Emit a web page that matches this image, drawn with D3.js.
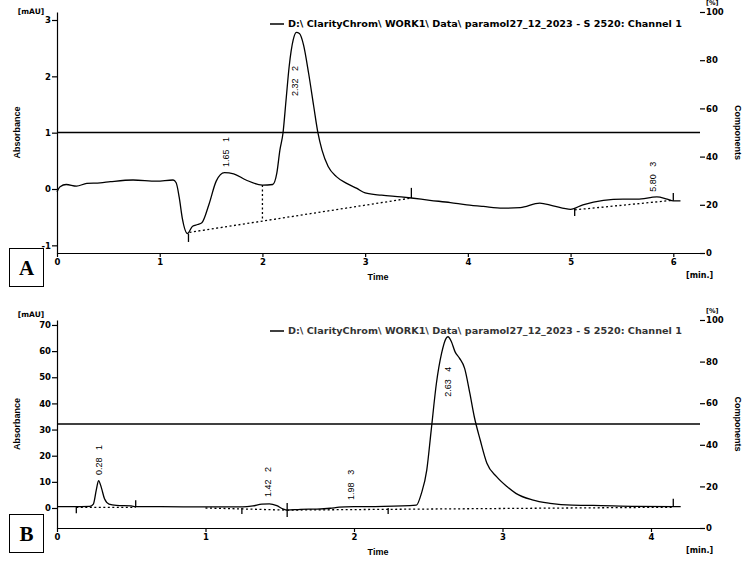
<!DOCTYPE html>
<html><head><meta charset="utf-8">
<script src="https://cdn.jsdelivr.net/npm/d3@7"></script>
<style>body{margin:0;background:#fff}svg{display:block}</style>
</head><body>
<svg id="chart" width="754" height="561"></svg>
<script>
const legendText = "D:\\ ClarityChrom\\ WORK1\\ Data\\ paramol27_12_2023 - S 2520: Channel 1";

// ---------- Panel A data ----------
const timeA = [0,0.03,0.09,0.19,0.29,0.42,0.52,0.74,0.97,1.13,1.16,1.19,1.22,1.27,1.32,1.37,1.41,1.48,1.55,1.63,1.72,1.84,2.0,2.1,2.14,2.17,2.2,2.23,2.26,2.3,2.33,2.36,2.4,2.45,2.5,2.54,2.58,2.64,2.72,2.82,2.92,3.0,3.16,3.35,3.45,3.63,3.83,3.99,4.15,4.34,4.51,4.7,4.83,5.0,5.12,5.32,5.51,5.65,5.84,5.94,6.0,6.07];
const absA  = [-0.05,0.04,0.08,0.05,0.1,0.11,0.13,0.16,0.14,0.16,0.11,-0.15,-0.52,-0.79,-0.66,-0.63,-0.6,-0.27,0.14,0.29,0.27,0.16,0.07,0.08,0.28,0.69,0.99,1.58,2.17,2.65,2.78,2.76,2.56,2.05,1.46,1.0,0.69,0.4,0.22,0.1,0.01,-0.07,-0.11,-0.14,-0.16,-0.2,-0.24,-0.28,-0.31,-0.34,-0.33,-0.25,-0.3,-0.36,-0.28,-0.2,-0.18,-0.18,-0.14,-0.18,-0.21,-0.21];
const leftTicksA = [-1,0,1,2,3];
const timeTicksA = [0,1,2,3,4,5,6];
const peakTimesA = [1.65,2.32,5.80];
const peakNumsA = ["1","2","3"];
const peakLabelBaseA = [0.39,1.65,-0.05];
const markerTimesA = [1.28,3.45,5.04,6.0];
const markerFromA = [-0.79,0.02,-0.34,-0.07];
const markerToA = [-0.94,-0.16,-0.48,-0.21];
const baselineTimesA = [[1.29,3.45],[2.0,2.0],[5.04,6.0]];
const baselineValsA = [[-0.77,-0.16],[0.07,-0.55],[-0.37,-0.2]];

// ---------- Panel B data ----------
const timeB = [0,0.1,0.22,0.245,0.265,0.28,0.3,0.32,0.35,0.4,0.5,0.53,0.7,1.0,1.25,1.32,1.38,1.43,1.48,1.52,1.55,1.64,1.75,1.84,1.9,2.0,2.2,2.42,2.454,2.49,2.52,2.555,2.59,2.62,2.633,2.656,2.68,2.71,2.745,2.78,2.81,2.85,2.895,2.96,3.03,3.09,3.2,3.32,3.47,3.61,3.9,4.2];
const absB  = [0.5,0.5,0.6,1.5,7,10.5,7.5,3.5,1.5,1.0,0.8,0.5,0.5,0.4,0.4,0.8,1.5,1.6,0.9,-0.3,-0.8,-0.5,-0.4,-0.1,0.3,0.5,0.6,1.1,5.6,14.5,29.8,47.7,59.2,64.9,65.5,63.6,59.8,57.3,53.4,43.9,34.9,26,17.1,12,8.2,5.6,3.1,1.8,1.1,1.0,0.6,0.5];
const leftTicksB = [0,10,20,30,40,50,60,70];
const timeTicksB = [0,1,2,3,4];
const peakTimesB = [0.28,1.42,1.98,2.63];
const peakNumsB = ["1","2","3","4"];
const peakLabelBaseB = [12.6,4.2,3.1,42.5];
const markerTimesB = [0.13,0.53,1.245,1.55,2.23,4.15];
const markerFromB = [0.5,0.5,0,1.9,0,0.5];
const markerToB = [-2.0,3.0,-2.3,-3.4,-2.3,3.5];
const baselineTimesB = [[0.13,0.53],[1.0,1.55],[1.55,4.15]];
const baselineValsB = [[0.2,0.2],[0,-0.8],[-0.8,0.3]];

const pctTicks = [0,20,40,60,80,100];

const svg = d3.select("#chart");
const FONT = "'DejaVu Sans', Verdana, sans-serif";
const FONT2 = "'Liberation Sans', Arial, sans-serif";

function drawPanel(cfg) {
  const g = svg.append("g");
  const x = d3.scaleLinear().domain(cfg.xDomain).range([57, 700]);
  const y = d3.scaleLinear().domain(cfg.yDomain).range([cfg.bottom, cfg.top]);
  const p = d3.scaleLinear().domain([0, 100]).range([cfg.bottom, cfg.top]);

  const la = g.append("g").attr("transform", "translate(57,0)")
    .call(d3.axisLeft(y).tickValues(cfg.leftTicks).tickSize(5).tickSizeOuter(0).tickPadding(1).tickFormat(d => String(d)));
  const ba = g.append("g").attr("transform", `translate(0,${cfg.bottom})`)
    .call(d3.axisBottom(x).tickValues(cfg.timeTicks).tickSize(4).tickSizeOuter(0).tickPadding(2).tickFormat(d => String(d)));
  const ra = g.append("g").attr("transform", "translate(700,0)")
    .call(d3.axisRight(p).tickValues(pctTicks).tickSize(5).tickSizeOuter(0).tickPadding(1).tickFormat(d => String(d)));
  ra.select(".domain").remove();
  [la, ba, ra].forEach(a => {
    a.selectAll("text").attr("font-family", FONT).attr("font-weight", "bold").attr("font-size", 8.5).attr("fill", "#000");
    a.selectAll("line,path").attr("stroke", "#000").attr("stroke-width", 1.2);
  });

  g.append("line").attr("x1", 57).attr("x2", 700).attr("y1", p(50)).attr("y2", p(50))
    .attr("stroke", "#000").attr("stroke-width", 1.6);

  cfg.baseT.forEach((bt, i) => {
    g.append("line").attr("x1", x(bt[0])).attr("x2", x(bt[1]))
      .attr("y1", y(cfg.baseV[i][0])).attr("y2", y(cfg.baseV[i][1]))
      .attr("stroke", "#000").attr("stroke-width", 1.3).attr("stroke-dasharray", "2,2.5");
  });

  const line = d3.line().x((d, i) => x(cfg.time[i])).y(d => y(d)).curve(d3.curveMonotoneX);
  g.append("path").datum(cfg.abs).attr("d", line).attr("fill", "none")
    .attr("stroke", "#000").attr("stroke-width", 1.3);

  cfg.markT.forEach((t, i) => {
    g.append("line").attr("x1", x(t)).attr("x2", x(t))
      .attr("y1", y(cfg.markFrom[i])).attr("y2", y(cfg.markTo[i]))
      .attr("stroke", "#000").attr("stroke-width", 1.3);
  });

  cfg.peakT.forEach((t, i) => {
    const px = x(t), py = y(cfg.peakBase[i]);
    g.append("text").attr("transform", `translate(${px},${py}) rotate(-90)`)
      .attr("dominant-baseline", "central")
      .attr("font-family", FONT2).attr("font-size", 9).attr("fill", "#000")
      .attr("xml:space", "preserve")
      .text(t.toFixed(2) + "   " + cfg.peakNums[i]);
  });

  const ly = cfg.top + cfg.legendDy;
  g.append("line").attr("x1", 270).attr("x2", 284).attr("y1", ly).attr("y2", ly)
    .attr("stroke", "#000").attr("stroke-width", 1.5);
  g.append("text").attr("x", 288).attr("y", ly + 3).attr("font-family", FONT)
    .attr("font-weight", "bold").attr("font-size", 8.5).attr("fill", cfg.legendColor)
    .attr("textLength", 394).attr("lengthAdjust", "spacingAndGlyphs").text(legendText);

  g.append("text").attr("x", 31).attr("y", cfg.mauY).attr("text-anchor", "middle")
    .attr("font-family", FONT).attr("font-weight", "bold").attr("font-size", 7.5).text("[mAU]");
  g.append("text").attr("x", 706).attr("y", cfg.top - 7).attr("font-family", FONT)
    .attr("font-weight", "bold").attr("font-size", 6.5).text("[%]");
  g.append("text").attr("x", 686).attr("y", cfg.bottom + 25).attr("font-family", FONT)
    .attr("font-weight", "bold").attr("font-size", 8).text("[min.]");
  g.append("text").attr("x", 378).attr("y", cfg.bottom + 27).attr("text-anchor", "middle")
    .attr("font-family", FONT2).attr("font-weight", "bold").attr("font-size", 9).text("Time");
  const mid = (cfg.top + cfg.bottom) / 2;
  g.append("text").attr("transform", `translate(20,${mid}) rotate(-90)`).attr("text-anchor", "middle")
    .attr("font-family", FONT2).attr("font-weight", "bold").attr("font-size", 9).text("Absorbance");
  g.append("text").attr("transform", `translate(735,${mid}) rotate(90)`).attr("text-anchor", "middle")
    .attr("font-family", FONT2).attr("font-weight", "bold").attr("font-size", 9).text("Components");

  g.append("rect").attr("x", 9.5).attr("y", cfg.boxY + 0.5).attr("width", 34).attr("height", 38)
    .attr("fill", "#fff").attr("stroke", "#000").attr("stroke-width", 1);
  g.append("text").attr("x", 26.5).attr("y", cfg.boxY + 27).attr("text-anchor", "middle")
    .attr("font-family", "'Liberation Serif', 'Times New Roman', serif").attr("font-weight", "bold")
    .attr("font-size", 21).text(cfg.letter);
}

drawPanel({
  top: 12, bottom: 253, xDomain: [0, 6.26], yDomain: [-1.136, 3.142],
  leftTicks: leftTicksA, timeTicks: timeTicksA, time: timeA, abs: absA,
  peakT: peakTimesA, peakNums: peakNumsA, peakBase: peakLabelBaseA,
  markT: markerTimesA, markFrom: markerFromA, markTo: markerToA,
  baseT: baselineTimesA, baseV: baselineValsA, legendDy: 12, legendColor: "#000",
  boxY: 248, letter: "A", mauY: 14
});
drawPanel({
  top: 320, bottom: 528, xDomain: [0, 4.33], yDomain: [-7.65, 71.9],
  leftTicks: leftTicksB, timeTicks: timeTicksB, time: timeB, abs: absB,
  peakT: peakTimesB, peakNums: peakNumsB, peakBase: peakLabelBaseB,
  markT: markerTimesB, markFrom: markerFromB, markTo: markerToB,
  baseT: baselineTimesB, baseV: baselineValsB, legendDy: 11, legendColor: "#333",
  boxY: 514, letter: "B", mauY: 317
});
</script>
</body></html>
